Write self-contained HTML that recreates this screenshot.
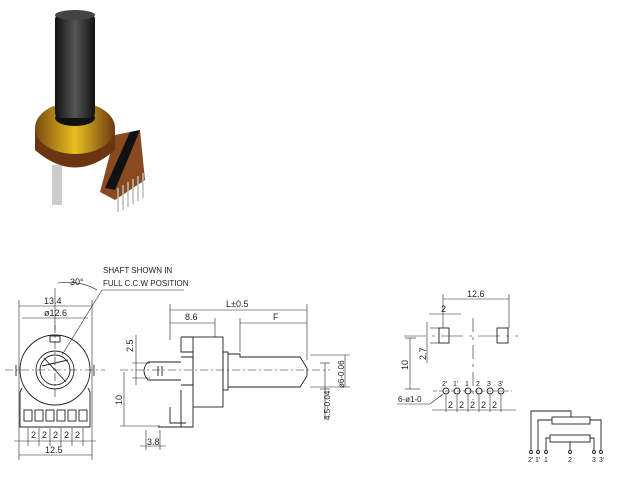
<!DOCTYPE html><html><head><style>body{margin:0;background:#fff}svg{display:block}text{font-family:"Liberation Sans",sans-serif;fill:#222}</style></head><body>
<svg width="620" height="500" viewBox="0 0 620 500" xmlns="http://www.w3.org/2000/svg">
<defs><linearGradient id="g" x1="0" x2="1"><stop offset="0" stop-color="#7a4a10"/><stop offset=".5" stop-color="#e8c020"/><stop offset="1" stop-color="#6a3a10"/></linearGradient>
<linearGradient id="s" x1="0" x2="1"><stop offset="0" stop-color="#111"/><stop offset=".5" stop-color="#555"/><stop offset="1" stop-color="#111"/></linearGradient></defs>
<!-- photo -->
<g>
<polygon points="115,135 140,130 145,180 115,200 100,192" fill="#8a4a20"/>
<g stroke="#bbb" stroke-width="1.5"><line x1="118" y1="188" x2="118" y2="212"/><line x1="123" y1="185" x2="123" y2="210"/><line x1="128" y1="182" x2="128" y2="207"/><line x1="133" y1="179" x2="133" y2="204"/><line x1="138" y1="176" x2="138" y2="201"/><line x1="143" y1="173" x2="143" y2="198"/></g>
<polygon points="130,132 140,130 115,190 105,188" fill="#111"/>
<rect x="52" y="165" width="10" height="40" fill="#ccc"/>
<path d="M35,128 L35,150 Q75,185 115,150 L115,128 Z" fill="#6a3510"/>
<ellipse cx="75" cy="128" rx="40" ry="26" fill="url(#g)"/>
<ellipse cx="75" cy="118" rx="20" ry="8" fill="#111"/>
<rect x="55" y="14" width="40" height="104" rx="5" fill="url(#s)"/>
<ellipse cx="75" cy="15" rx="20" ry="5" fill="#444"/>
</g>
<g fill="none" stroke="#222" stroke-width="0.9">
<!-- front view -->
<circle cx="55" cy="370" r="35"/>
<line x1="16" y1="365" x2="16" y2="376"/><line x1="94" y1="365" x2="94" y2="376"/>
<circle cx="55" cy="370" r="19"/><circle cx="55" cy="370" r="15"/>
<path d="M44,358 L66,382 M42,366 L68,360"/>
<rect x="50" y="336" width="10" height="6"/>
<path d="M22,388 L20,392 L20,427 L90,427 L90,392 L88,388"/>
<g><rect x="24" y="410" width="8" height="11"/><rect x="35" y="410" width="8" height="11"/><rect x="46" y="410" width="8" height="11"/><rect x="57" y="410" width="8" height="11"/><rect x="68" y="410" width="8" height="11"/><rect x="79" y="410" width="8" height="11"/></g>
<g stroke-width="0.6"><line x1="19" y1="300" x2="19" y2="460"/><line x1="92" y1="300" x2="92" y2="460"/><line x1="19" y1="306" x2="92" y2="306"/><line x1="22" y1="318" x2="88" y2="318"/>
<line x1="5" y1="370" x2="105" y2="370" stroke-dasharray="8,3,2,3"/><line x1="55" y1="325" x2="55" y2="400" stroke-dasharray="8,3,2,3"/>
<line x1="55" y1="288" x2="55" y2="330"/><path d="M58,283 Q80,280 97,290"/>
<line x1="62" y1="355" x2="102" y2="290"/><line x1="102" y1="290" x2="184" y2="290"/>
<line x1="14" y1="441" x2="96" y2="441"/><line x1="19" y1="455" x2="92" y2="455"/>
<line x1="28" y1="428" x2="28" y2="446"/><line x1="39" y1="428" x2="39" y2="446"/><line x1="50" y1="428" x2="50" y2="446"/><line x1="61" y1="428" x2="61" y2="446"/><line x1="72" y1="428" x2="72" y2="446"/><line x1="83" y1="428" x2="83" y2="446"/></g>
<!-- side view -->
<rect x="193" y="337" width="30" height="70"/>
<path d="M181,337 L193,337 M181,337 L181,352 L193,352 M181,357 L193,357 L193,385 L181,385 M181,390 L181,427 L193,427 L193,407"/>
<rect x="223" y="352" width="5" height="38"/>
<path d="M228,354 L240,354 L240,357 L300,357 L307,368 L307,376 L300,387 L228,387"/>
<path d="M148,362 L181,362 M148,380 L181,380 M148,362 Q140,371 148,380 M158,366 L158,376 M162,366 L162,376"/>
<path d="M158,427 L181,427 M170,407 L170,423 L186,423"/>
<g stroke-width="0.6"><line x1="120" y1="370" x2="330" y2="370" stroke-dasharray="8,3,2,3"/>
<line x1="170" y1="304" x2="170" y2="340"/><line x1="307" y1="304" x2="307" y2="360"/><line x1="215" y1="318" x2="215" y2="337"/><line x1="240" y1="318" x2="240" y2="352"/>
<line x1="170" y1="310" x2="307" y2="310"/><line x1="170" y1="323" x2="215" y2="323"/><line x1="240" y1="323" x2="307" y2="323"/>
<line x1="124" y1="372" x2="124" y2="426"/><line x1="120" y1="426" x2="160" y2="426"/>
<line x1="136" y1="335" x2="136" y2="385"/><line x1="132" y1="363" x2="150" y2="363"/><line x1="132" y1="378" x2="150" y2="378"/>
<line x1="310" y1="355" x2="350" y2="355"/><line x1="310" y1="387" x2="350" y2="387"/><line x1="345" y1="355" x2="345" y2="387"/>
<line x1="320" y1="363" x2="330" y2="363"/><line x1="320" y1="389" x2="330" y2="389"/><line x1="325" y1="363" x2="325" y2="420"/>
<line x1="146" y1="430" x2="146" y2="450"/><line x1="160" y1="430" x2="160" y2="450"/><line x1="140" y1="446" x2="166" y2="446"/></g>
<!-- footprint -->
<rect x="439" y="328" width="10" height="15"/><rect x="497" y="328" width="11" height="15"/>
<g stroke-width="0.6"><line x1="443" y1="294" x2="443" y2="328"/><line x1="509" y1="294" x2="509" y2="328"/><line x1="443" y1="299" x2="509" y2="299"/>
<line x1="429" y1="314" x2="461" y2="314"/><line x1="430" y1="328" x2="439" y2="328"/><line x1="430" y1="343" x2="439" y2="343"/><line x1="427" y1="322" x2="427" y2="363"/>
<line x1="404" y1="336" x2="518" y2="336" stroke-dasharray="22,6,3,6"/><line x1="473" y1="318" x2="473" y2="400" stroke-dasharray="14,5,3,5"/>
<line x1="405" y1="338" x2="416" y2="338"/><line x1="410" y1="338" x2="410" y2="389"/><line x1="405" y1="389" x2="420" y2="389"/>
<line x1="433" y1="391" x2="512" y2="391" stroke-dasharray="4,2"/><line x1="432" y1="410" x2="516" y2="410"/>
<line x1="446" y1="395" x2="446" y2="412"/><line x1="457" y1="395" x2="457" y2="412"/><line x1="468" y1="395" x2="468" y2="412"/><line x1="479" y1="395" x2="479" y2="412"/><line x1="490" y1="395" x2="490" y2="412"/><line x1="501" y1="395" x2="501" y2="412"/>
<line x1="397" y1="404" x2="430" y2="404"/><line x1="430" y1="404" x2="443" y2="394"/></g>
<circle cx="446" cy="391" r="3"/><circle cx="457" cy="391" r="3"/><circle cx="468" cy="391" r="3"/><circle cx="479" cy="391" r="3"/><circle cx="490" cy="391" r="3"/><circle cx="501" cy="391" r="3"/>
<!-- schematic -->
<rect x="552" y="417" width="38" height="7"/><rect x="550" y="435" width="40" height="7"/>
<path d="M531,451 L531,411 L571,411 L571,417 M538,451 L538,420 L552,420 M546,451 L546,438 L550,438 M570,451 L570,442 M594,451 L594,438 L590,438 M601,451 L601,420 L590,420"/>
<g fill="#fff"><circle cx="531" cy="452" r="1.5"/><circle cx="538" cy="452" r="1.5"/><circle cx="546" cy="452" r="1.5"/><circle cx="570" cy="452" r="1.5"/><circle cx="594" cy="452" r="1.5"/><circle cx="601" cy="452" r="1.5"/></g>
</g>
<g font-size="9">
<text x="103" y="273" font-size="8">SHAFT SHOWN IN</text><text x="103" y="286" font-size="8">FULL C.C.W POSITION</text>
<text x="70" y="285" font-size="9">30°</text>
<text x="44" y="304">13.4</text><text x="44" y="316">ø12.6</text>
<text x="31" y="438">2</text><text x="42" y="438">2</text><text x="53" y="438">2</text><text x="64" y="438">2</text><text x="75" y="438">2</text>
<text x="45" y="453">12.5</text>
<text x="226" y="307">L±0.5</text><text x="185" y="320">8.6</text><text x="273" y="320">F</text>
<text x="147" y="445">3.8</text>
<text transform="translate(133,352) rotate(-90)">2.5</text><text transform="translate(122,405) rotate(-90)">10</text>
<text transform="translate(344,388) rotate(-90)" font-size="8">ø6-0.06</text><text transform="translate(330,420) rotate(-90)" font-size="8">4.5-0.04</text>
<text x="467" y="297">12.6</text><text x="441" y="312">2</text>
<text transform="translate(426,360) rotate(-90)">2.7</text><text transform="translate(408,370) rotate(-90)">10</text>
<text x="398" y="402" font-size="8">6-ø1-0</text>
<g font-size="7"><text x="442" y="386">2'</text><text x="453" y="386">1'</text><text x="465" y="386">1</text><text x="476" y="386">2</text><text x="487" y="386">3</text><text x="498" y="386">3'</text></g>
<text x="448" y="408">2</text><text x="459" y="408">2</text><text x="470" y="408">2</text><text x="481" y="408">2</text><text x="492" y="408">2</text>
<g font-size="7"><text x="528" y="462">2'</text><text x="535" y="462">1'</text><text x="544" y="462">1</text><text x="568" y="462">2</text><text x="592" y="462">3</text><text x="599" y="462">3'</text></g>
</g>
</svg></body></html>
